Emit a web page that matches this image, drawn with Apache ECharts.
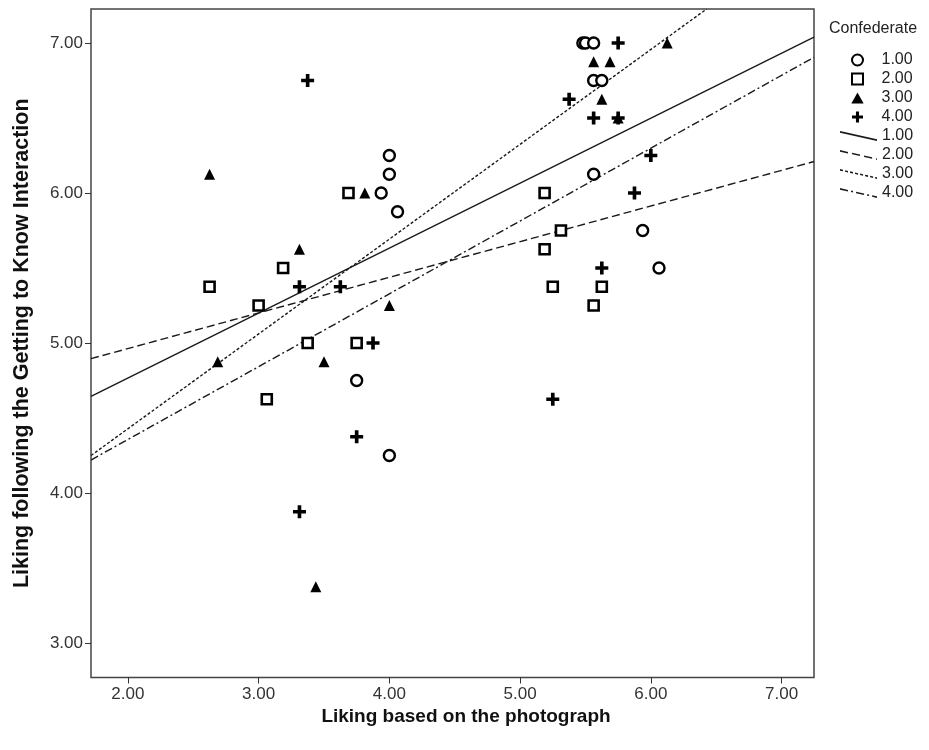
<!DOCTYPE html>
<html>
<head>
<meta charset="utf-8">
<script src="https://cdn.jsdelivr.net/npm/echarts@6/dist/echarts.min.js"></script>
<style>
  html, body { margin: 0; padding: 0; background: #fff; }
  #grafico { width: 929px; height: 750px; }
</style>
</head>
<body>
<div id="grafico"></div>
<script>
// axis ticks
var xTicks = [2, 3, 4, 5, 6, 7];
var yTicks = [3, 4, 5, 6, 7];

// points per confederate: [liking photo, liking after interaction]
var conf1 = [[5.48, 7], [5.5, 7], [5.5625, 7], [5.5625, 6.75], [5.625, 6.75], [5.5625, 6.125],
  [5.9375, 5.75], [6.0625, 5.5], [4.0, 6.25], [4.0, 6.125], [3.9375, 6.0], [4.0625, 5.875],
  [3.75, 4.75], [4.0, 4.25]];
var conf2 = [[3.6875, 6.0], [3.1875, 5.5], [2.625, 5.375], [3.0, 5.25], [3.375, 5.0], [3.75, 5.0],
  [3.0625, 4.625], [5.1875, 6.0], [5.3125, 5.75], [5.1875, 5.625], [5.25, 5.375], [5.625, 5.375],
  [5.5625, 5.25]];
var conf3 = [[2.625, 6.125], [3.8125, 6.0], [3.3125, 5.625], [4.0, 5.25], [2.6875, 4.875], [3.5, 4.875],
  [3.4375, 3.375], [6.125, 7.0], [5.5625, 6.875], [5.6875, 6.875], [5.625, 6.625], [5.75, 6.5]];
var conf4 = [[3.375, 6.75], [3.3125, 5.375], [3.625, 5.375], [3.875, 5.0], [3.75, 4.375], [3.3125, 3.875],
  [5.75, 7.0], [5.375, 6.625], [5.5625, 6.5], [5.75, 6.5], [6.0, 6.25], [5.875, 6.0], [5.625, 5.5],
  [5.25, 4.625]];

// fit lines, end points
var fit1 = [[1.718, 4.645], [7.248, 7.04]];
var fit2 = [[1.718, 4.896], [7.248, 6.21]];
var fit3 = [[1.718, 4.25], [6.427, 7.227]];
var fit4 = [[1.718, 4.22], [7.248, 6.905]];

var groups = ['1.00', '2.00', '3.00', '4.00'];
var dashes = ['solid', [8, 4], [3, 2], [8, 3, 2, 3]];

var font = 'Liberation Sans, Arial, sans-serif';
var plus = 'path://M3.6,0H6.4V3.6H10V6.4H6.4V10H3.6V6.4H0V3.6H3.6Z';
var square = 'path://M0,0H10V10H0Z';
var tri = 'path://M5,0L10,9H0Z';

// slanted little line for the legend, like the SPSS key
function slantIcon(dash) {
  var dx = 36, dy = 8, w = 1.5;
  var len = Math.sqrt(dx * dx + dy * dy);
  var pat = dash === 'solid' ? [len, 0] : dash;
  var d = '', t = 0, i = 0;
  while (t < len) {
    var on = pat[i % pat.length];
    var e = Math.min(t + on, len);
    if (i % 2 === 0 && e > t) {
      var ax = dx * t / len, ay = dy * t / len, bx = dx * e / len, by = dy * e / len;
      d += 'M' + ax.toFixed(2) + ',' + ay.toFixed(2) + 'L' + bx.toFixed(2) + ',' + by.toFixed(2) +
        'L' + bx.toFixed(2) + ',' + (by + w).toFixed(2) + 'L' + ax.toFixed(2) + ',' + (ay + w).toFixed(2) + 'Z';
    }
    t = e;
    i++;
  }
  return 'path://' + d;
}

var chartDom = document.getElementById('grafico');
var myChart = echarts.init(chartDom);
var option;

function pts(name, data, symbol, size, style) {
  style.opacity = 1;
  return {
    name: name,
    type: 'scatter',
    data: data,
    symbol: symbol,
    symbolSize: size,
    itemStyle: style,
    z: 3
  };
}

function fit(name, data, dash) {
  return {
    name: 'fit ' + name,
    type: 'line',
    data: data,
    symbol: 'none',
    itemStyle: { color: '#1a1a1a' },
    lineStyle: { color: '#1a1a1a', width: 1.4, type: dash },
    silent: true,
    z: 2
  };
}

var legendText = { fontFamily: font, fontSize: 16, color: '#222' };

option = {
  animation: false,
  backgroundColor: '#fff',
  title: {
    text: 'Confederate',
    left: 824,
    top: 16,
    textStyle: { fontFamily: font, fontSize: 16, fontWeight: 'normal', color: '#222' }
  },
  legend: [
    {
      orient: 'vertical',
      left: 846,
      top: 47,
      itemWidth: 38,
      itemHeight: 11,
      itemGap: 3,
      symbolKeepAspect: true,
      textStyle: legendText,
      data: [
        { name: '1.00', icon: 'circle' },
        { name: '2.00', icon: square },
        { name: '3.00', icon: tri },
        { name: '4.00', icon: plus }
      ]
    },
    {
      orient: 'vertical',
      left: 835,
      top: 123,
      itemWidth: 37,
      itemHeight: 11,
      itemGap: 3,
      symbolKeepAspect: true,
      textStyle: legendText,
      formatter: function (name) { return name.replace('fit ', ''); },
      data: groups.map(function (g, i) {
        return { name: 'fit ' + g, icon: slantIcon(dashes[i]), itemStyle: { color: '#1a1a1a', borderWidth: 0 } };
      })
    }
  ],
  grid: {
    left: 91,
    top: 9,
    width: 723,
    height: 668.5,
    show: true,
    borderColor: '#444',
    borderWidth: 1.5
  },
  xAxis: {
    type: 'value',
    min: 1.718,
    max: 7.248,
    name: 'Liking based on the photograph',
    nameLocation: 'middle',
    nameGap: 27,
    nameTextStyle: { fontFamily: font, fontSize: 19, fontWeight: 'bold', color: '#111', padding: [0, 0, 0, 27] },
    axisLine: { show: false },
    axisTick: { show: true, length: 6, customValues: xTicks, lineStyle: { color: '#333' } },
    axisLabel: {
      customValues: xTicks,
      margin: 8,
      fontFamily: font,
      fontSize: 17,
      color: '#333',
      formatter: function (v) { return v.toFixed(2); }
    },
    splitLine: { show: false }
  },
  yAxis: {
    type: 'value',
    min: 2.77,
    max: 7.227,
    name: 'Liking following the Getting to Know Interaction',
    nameLocation: 'middle',
    nameGap: 58,
    nameTextStyle: { fontFamily: font, fontSize: 21.5, fontWeight: 'bold', color: '#111' },
    axisLine: { show: false },
    axisTick: { show: true, length: 6, customValues: yTicks, lineStyle: { color: '#333' } },
    axisLabel: {
      customValues: yTicks,
      margin: 8,
      fontFamily: font,
      fontSize: 17,
      color: '#333',
      formatter: function (v) { return v.toFixed(2); }
    },
    splitLine: { show: false }
  },
  series: [
    pts('1.00', conf1, 'circle', 11, { color: '#fff', borderColor: '#000', borderWidth: 2.4 }),
    pts('2.00', conf2, 'rect', 10, { color: '#fff', borderColor: '#000', borderWidth: 2.6 }),
    pts('3.00', conf3, tri, 11, { color: '#000' }),
    pts('4.00', conf4, plus, 13, { color: '#000' }),
    fit('1.00', fit1, dashes[0]),
    fit('2.00', fit2, dashes[1]),
    fit('3.00', fit3, dashes[2]),
    fit('4.00', fit4, dashes[3])
  ]
};

option && myChart.setOption(option);
</script>
</body>
</html>
